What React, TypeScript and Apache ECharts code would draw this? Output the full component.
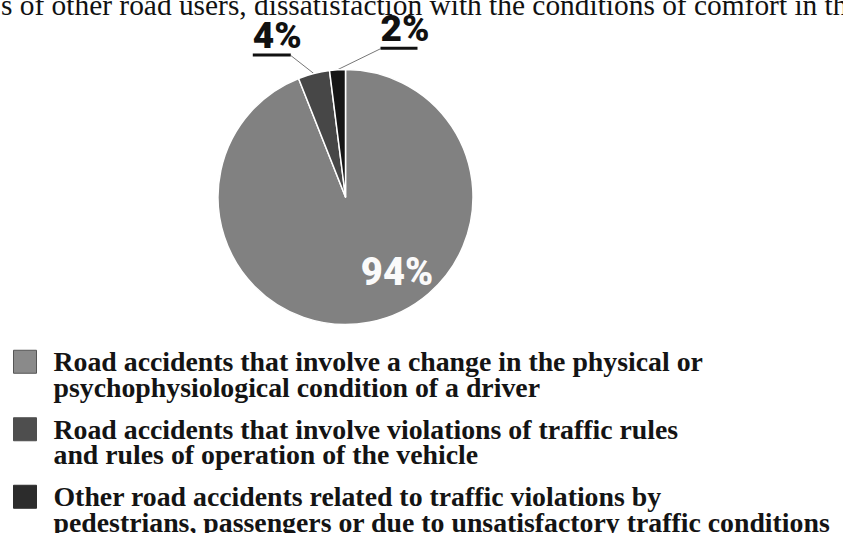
import { useEffect, useRef } from 'react';
import * as echarts from 'echarts';

const categories = [
  'Road accidents that involve a change in the physical or\npsychophysiological condition of a driver',
  'Road accidents that involve violations of traffic rules\nand rules of operation of the vehicle',
  'Other road accidents related to traffic violations by\npedestrians, passengers or due to unsatisfactory traffic conditions',
];
const shares = [94, 4, 2];
const sliceColors = ['#818181', '#474747', '#161616'];
const legendColors = ['#8a8a8a', '#4e4e4e', '#2c2c2c'];
const headerText = 's of other road users, dissatisfaction with the conditions of comfort in th';

const LABEL_FONT = 'Roboto, "Liberation Sans Narrow", sans-serif';
const SERIF = '"Liberation Serif", "Times New Roman", serif';

export default function App() {
  const ref = useRef<HTMLDivElement>(null);
  useEffect(() => {
    const chart = echarts.init(ref.current!, null, { renderer: 'svg' });
    const underlineW = [0, 38, 37];
    const data = shares.map((v, i) => {
      const inside = i === 0;
      return {
        name: categories[i],
        value: v,
        itemStyle: { color: sliceColors[i] },
        label: inside
          ? {
              show: true,
              position: 'inside',
              formatter: (p: any) => `${p.value}%`,
              color: '#fafafa',
              fontFamily: LABEL_FONT,
              fontWeight: 900,
              fontSize: 38,
            }
          : {
              show: true,
              position: 'outside',
              formatter: (p: any) => `{t|${p.value}%}\n{u|}`,
              rich: {
                t: {
                  fontFamily: LABEL_FONT,
                  fontWeight: 900,
                  fontSize: 37,
                  color: '#111',
                  lineHeight: 35,
                  align: 'left',
                },
                u: {
                  width: underlineW[i],
                  height: 3,
                  lineHeight: 5,
                  backgroundColor: '#111',
                  align: 'left',
                },
              },
            },
        labelLine: inside
          ? { show: false }
          : { show: true, length: 10, length2: 10, lineStyle: { color: '#777', width: 1 } },
      };
    });

    chart.setOption({
      animation: false,
      backgroundColor: '#ffffff',
      graphic: [
        {
          type: 'text',
          x: 1,
          y: 5,
          silent: true,
          style: {
            text: headerText,
            fontFamily: SERIF,
            fontSize: 29.4,
            fill: '#111',
            verticalAlign: 'middle',
          },
        },
      ],
      legend: {
        orient: 'vertical',
        left: 13,
        top: 322.25,
        height: 400,
        padding: 0,
        itemWidth: 23,
        itemHeight: 23,
        itemGap: -11.5,
        icon: 'rect',
        selectedMode: false,
        formatter: (name: string) => '\n' + name,
        data: categories.map((n, i) => ({
          name: n,
          itemStyle: {
            color: legendColors[i],
            borderColor: i === 0 ? '#555' : legendColors[i],
            borderWidth: 1,
          },
        })),
        textStyle: {
          fontFamily: SERIF,
          fontWeight: 'bold',
          fontSize: 27.8,
          lineHeight: 25.5,
          color: '#141414',
          padding: [0, 0, 0, 12],
        },
      },
      series: [
        {
          type: 'pie',
          center: [345.5, 197],
          radius: 127.5,
          startAngle: 90,
          clockwise: true,
          avoidLabelOverlap: false,
          silent: true,
          emphasis: { disabled: true },
          itemStyle: { borderColor: '#ffffff', borderWidth: 1.5 },
          labelLayout: (params: any) => {
            const i = params.dataIndex;
            if (i === 0) return { dx: 39, dy: 9 };
            const p0 = params.labelLinePoints && params.labelLinePoints[0];
            if (!p0) return {};
            if (i === 1) {
              const p1 = [p0[0] - 23, p0[1] - 18];
              return {
                x: p1[0] - underlineW[1],
                y: p1[1] + 2,
                align: 'left',
                verticalAlign: 'bottom',
                labelLinePoints: [p0, p1],
              };
            }
            const p1 = [p0[0] + 45, p0[1] - 21];
            return {
              x: p1[0] - 2,
              y: p1[1] + 2,
              align: 'left',
              verticalAlign: 'bottom',
              labelLinePoints: [p0, [p1[0] - 2, p1[1]]],
            };
          },
          data,
        },
      ],
    });
    return () => chart.dispose();
  }, []);
  return (
    <div
      ref={ref}
      style={{ position: 'fixed', left: 0, top: 0, width: 843, height: 533, background: '#fff' }}
    />
  );
}
